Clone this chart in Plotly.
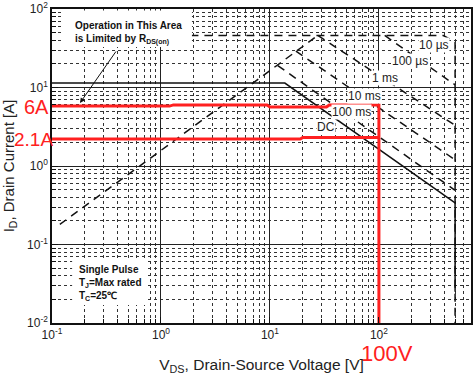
import plotly.graph_objects as go

# ---- data (V in volts, I in amps) ----
V_rds = [0.118, 27.5]
I_rds = [0.18, 46]
V_10us = [0.13, 390, 500, 500]
I_10us = [46, 46, 38, 0.01]
V_100us = [113, 500]
I_100us = [46, 10.8]
V_1ms = [27.5, 500]
I_1ms = [46, 3.3]
V_10ms = [17.3, 500]
I_10ms = [29, 1.2]
V_100ms = [11.8, 500]
I_100ms = [19, 0.49]
V_dc = [0.1, 13.7, 500, 500]
I_dc = [11.4, 11.4, 0.34, 0.025]

V_red6 = [0.1, 1.2, 1.3, 9.4, 10.0, 33.0, 35.0, 100.0, 100.0]
I_red6 = [5.8, 5.8, 6.0, 6.0, 5.65, 5.65, 6.0, 6.0, 0.01]
V_red2 = [0.1, 19.0, 20.0, 100.0]
I_red2 = [2.2, 2.2, 2.3, 2.3]

x_tickvals = [0.1, 1, 10, 100]
x_ticktext = ["10<sup>-1</sup>", "10<sup>0</sup>", "10<sup>1</sup>", "10<sup>2</sup>"]
y_tickvals = [0.01, 0.1, 1, 10, 100]
y_ticktext = ["10<sup>-2</sup>", "10<sup>-1</sup>", "10<sup>0</sup>", "10<sup>1</sup>", "10<sup>2</sup>"]

curve_labels = ["10 \u00b5s", "100 \u00b5s", "1 ms", "10 ms", "100 ms", "DC"]
label_pos = [(0.912, 0.885), (0.854, 0.834), (0.795, 0.780), (0.745, 0.723), (0.714, 0.672), (0.654, 0.624)]

FONT = "Liberation Sans, Arial, sans-serif"
DASH = "8px,6px"
BLK = "#111111"
RED = "#ff2020"

fig = go.Figure()
for vx, iy, dash in [(V_rds, I_rds, DASH), (V_10us, I_10us, DASH), (V_100us, I_100us, DASH),
                     (V_1ms, I_1ms, DASH), (V_10ms, I_10ms, DASH), (V_100ms, I_100ms, DASH),
                     (V_dc, I_dc, "solid")]:
    fig.add_trace(go.Scatter(x=vx, y=iy, mode="lines",
                             line=dict(color=BLK, width=1.5, dash=dash), showlegend=False))
fig.add_trace(go.Scatter(x=V_red6, y=I_red6, mode="lines", line=dict(color=RED, width=3), showlegend=False))
fig.add_trace(go.Scatter(x=V_red2, y=I_red2, mode="lines", line=dict(color=RED, width=3), showlegend=False))

axis_common = dict(
    type="log", showline=True, linecolor=BLK, linewidth=1.5, mirror=True,
    showgrid=True, gridcolor="#222222", gridwidth=1,
    ticks="inside", ticklen=6, tickcolor=BLK,
    tickfont=dict(family=FONT, size=12, color="#222"),
    minor=dict(showgrid=True, gridcolor="#333333", griddash="dot", gridwidth=1,
               ticks="inside", ticklen=4, tickcolor=BLK, dtick="D1"),
    zeroline=False, automargin=False,
)

fig.update_xaxes(range=[-1, 2.845], tickvals=x_tickvals, ticktext=x_ticktext,
                 title=dict(text="V<sub>DS</sub>, Drain-Source Voltage [V]",
                            font=dict(family=FONT, size=15.5, color="#222"), standoff=19),
                 **axis_common)
fig.update_yaxes(range=[-2, 2], tickvals=y_tickvals, ticktext=y_ticktext,
                 title=dict(text="I<sub>D</sub>, Drain Current [A]",
                            font=dict(family=FONT, size=15, color="#222"), standoff=15),
                 **axis_common)

shapes = [
    dict(type="rect", xref="paper", yref="paper", x0=0.024, x1=0.334, y0=0.879, y1=0.995,
         fillcolor="white", line=dict(width=0), layer="above"),
    dict(type="rect", xref="paper", yref="paper", x0=0.048, x1=0.222, y0=0.057, y1=0.207,
         fillcolor="white", line=dict(width=0), layer="above"),
]

C = dict(xanchor="center", yanchor="middle", showarrow=False)
annotations = [
    dict(xref="paper", yref="paper", x=0.0500, y=0.925, xanchor="left", yanchor="middle",
         showarrow=False,
         text="<b>Operation in This Area<br>is Limited by R<sub>DS(on)</sub></b>",
         align="left", font=dict(family=FONT, size=10, color="#111")),
    dict(xref="paper", yref="paper", x=0.0668, y=0.7006, text="", showarrow=True,
         ax=37, ay=-53, arrowhead=2, arrowsize=1, arrowwidth=1, arrowcolor=BLK),
    dict(xref="paper", yref="paper", x=0.0597, y=0.127, xanchor="left", yanchor="middle",
         showarrow=False,
         text="<b>Single Pulse<br>T<sub>J</sub>=Max rated<br>T<sub>C</sub>=25\u2103</b>",
         align="left", font=dict(family=FONT, size=10, color="#111")),
    dict(xref="paper", yref="paper", x=-0.038, y=0.689, **C, text="6A",
         font=dict(family=FONT, size=20, color=RED)),
    dict(xref="paper", yref="paper", x=-0.044, y=0.584, **C, text="2.1A",
         font=dict(family=FONT, size=19, color=RED)),
    dict(xref="paper", yref="paper", x=0.80, y=-0.097, **C, text="100V",
         font=dict(family=FONT, size=22, color=RED)),
]
for txt, (px, py) in zip(curve_labels, label_pos):
    annotations.append(dict(xref="paper", yref="paper", x=px, y=py, **C, text=txt,
                            bgcolor="white", borderpad=0,
                            font=dict(family=FONT, size=12, color="#222")))

fig.update_layout(
    width=475, height=375, margin=dict(l=52, r=4, t=9, b=52),
    paper_bgcolor="white", plot_bgcolor="white",
    shapes=shapes, annotations=annotations, showlegend=False,
)
fig.write_html("out.html", config={"displayModeBar": False},
               post_script="document.body.style.margin='0';document.body.style.padding='0';")
